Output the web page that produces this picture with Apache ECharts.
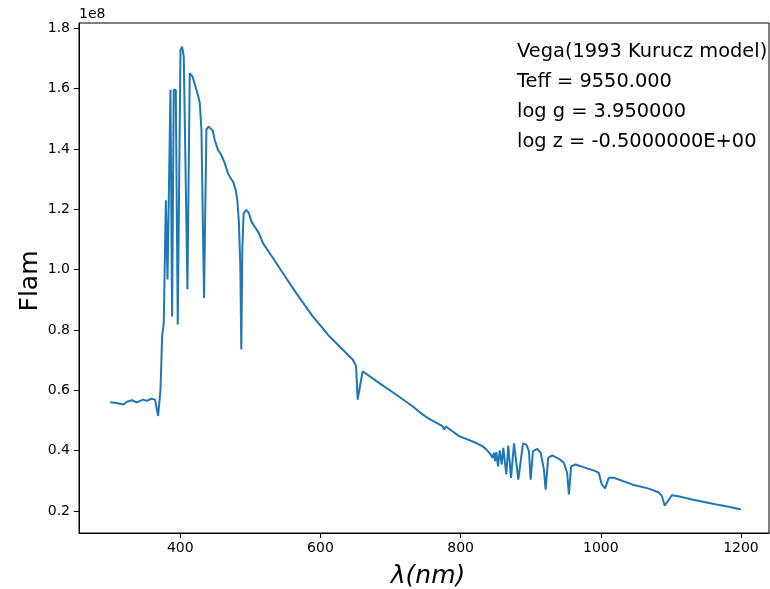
<!DOCTYPE html>
<html>
<head>
<meta charset="utf-8" />
<title>Vega spectrum</title>
<script src="https://cdn.jsdelivr.net/npm/echarts@6.0.0/dist/echarts.min.js"></script>
<style>
  html, body { margin: 0; padding: 0; background: #fff; }
  #chart { width: 770px; height: 589px; }
</style>
</head>
<body>
<div id="chart"></div>
<script type="text/javascript">
// wavelength (nm)
var wave = [
  300, 309, 319, 324, 331, 338, 347, 352, 359, 364, 368.4, 371.8, 374.1, 376.5,
  379.4, 381.8, 386, 388.3, 390.7, 393.6, 396.4, 400.3, 402.6, 405, 410.2, 413.5,
  417.4, 423.1, 425.6, 427.8, 430.2, 433.9, 437.3, 440.6, 444.4, 446.7, 449.1,
  453.8, 458.6, 463.3, 468, 471.5, 475.2, 479, 481.4, 483.7, 485.7, 487.1, 488.5,
  490.4, 494.2, 497.9, 501.4, 506, 512.2, 517.9, 527.4, 536.9, 546.3, 565.4, 589,
  612.8, 631.7, 646, 650.8, 653.1, 660.2, 684, 707.8, 731.4, 745.6, 755.2, 774.1,
  776.5, 778.9, 797.9, 821.6, 831, 836.3, 843, 845.3, 847.7, 849.1, 850.9, 853.4,
  855.8, 858.7, 860.9, 865.2, 868, 871.9, 876.2, 882.3, 889, 893.7, 897.5, 899.9,
  903.2, 909.3, 914.2, 918.9, 921.3, 925, 930.7, 940.2, 947.3, 952, 954.5, 957.7,
  964, 978.2, 992.5, 997.2, 1001.4, 1006.1, 1011.4, 1018.5, 1044.6, 1068.3,
  1082.6, 1087.3, 1091.1, 1101.5, 1111, 1130, 1163.3, 1182.2, 1200
];
// Flam in units of 1e8
var flam = [
  0.560, 0.558, 0.553, 0.562, 0.567, 0.560, 0.569, 0.565, 0.572, 0.569, 0.515, 0.602, 0.779, 0.824,
  1.23, 0.967, 1.596, 0.845, 1.596, 1.596, 0.818, 1.728, 1.739, 1.706, 0.935, 1.651,
  1.64, 1.596, 1.575, 1.553, 1.463, 0.906, 1.465, 1.474, 1.465, 1.458, 1.43,
  1.397, 1.38, 1.354, 1.32, 1.304, 1.292, 1.265, 1.23, 1.155, 1.01, 0.735, 1.066,
  1.187, 1.198, 1.187, 1.16, 1.143, 1.121, 1.088, 1.055, 1.022, 0.989, 0.922, 0.845,
  0.779, 0.735, 0.702, 0.68, 0.569, 0.663, 0.624, 0.586, 0.547, 0.52, 0.505, 0.481,
  0.47, 0.48, 0.448, 0.426, 0.415, 0.405, 0.387, 0.376, 0.393, 0.365, 0.395, 0.348,
  0.401, 0.354, 0.409, 0.321, 0.417, 0.31, 0.424, 0.304, 0.424, 0.42, 0.398, 0.304,
  0.398, 0.406, 0.393, 0.337, 0.271, 0.376, 0.384, 0.373, 0.36, 0.326, 0.255, 0.348,
  0.354, 0.343, 0.332, 0.326, 0.288, 0.275, 0.31, 0.31, 0.288, 0.274,
  0.262, 0.249, 0.218, 0.252, 0.249, 0.238, 0.222, 0.214, 0.205
];
var xTicks = [400, 600, 800, 1000, 1200];
var yTicks = [0.2, 0.4, 0.6, 0.8, 1.0, 1.2, 1.4, 1.6, 1.8];
var infoLines = [
  'Vega(1993 Kurucz model)',
  'Teff = 9550.000',
  'log g = 3.950000',
  'log z = -0.5000000E+00'
];

var pts = [];
for (var i = 0; i < wave.length; i++) {
  pts.push([wave[i], flam[i]]);
}

var font = 'DejaVu Sans';
var myChart = echarts.init(document.getElementById('chart'));

var texts = [];
for (var k = 0; k < infoLines.length; k++) {
  texts.push({
    type: 'text', left: 517, top: 42 + k * 30,
    style: { text: infoLines[k], font: '19.4px "DejaVu Sans"', fill: '#000' }
  });
}
// axis titles and offset text
texts.push({
  type: 'text', left: 79, top: 7,
  style: { text: '1e8', font: '14px "DejaVu Sans"', fill: '#000' }
});
texts.push({
  type: 'text', x: 30, y: 281, rotation: Math.PI / 2,
  style: { text: 'Flam', font: '25px "DejaVu Sans"', fill: '#000', align: 'center', verticalAlign: 'middle' }
});
texts.push({
  type: 'text', x: 428, y: 576,
  style: { text: 'λ(nm)', font: 'italic 25px "DejaVu Sans"', fill: '#000', align: 'center', verticalAlign: 'middle' }
});

var option = {
  animation: false,
  grid: {
    left: 79, right: 1, top: 23, bottom: 56,
    show: true, borderColor: '#000', borderWidth: 1
  },
  xAxis: {
    type: 'value',
    min: 255.5, max: 1240,
    axisLine: { show: true, lineStyle: { color: '#000', width: 1 } },
    axisTick: { show: true, inside: false, length: 5, customValues: xTicks, lineStyle: { color: '#000' } },
    axisLabel: {
      customValues: xTicks, margin: 8, color: '#000', fontFamily: font, fontSize: 14,
      formatter: function (v) { return String(v); }
    },
    splitLine: { show: false }
  },
  yAxis: {
    type: 'value',
    min: 0.127, max: 1.8175,
    axisLine: { show: true, lineStyle: { color: '#000', width: 1 } },
    axisTick: { show: true, inside: false, length: 5, customValues: yTicks, lineStyle: { color: '#000' } },
    axisLabel: {
      customValues: yTicks, margin: 9, color: '#000', fontFamily: font, fontSize: 14,
      formatter: function (v) { return v.toFixed(1); }
    },
    splitLine: { show: false }
  },
  graphic: texts,
  series: [{
    type: 'line',
    data: pts,
    showSymbol: false,
    lineStyle: { color: '#1f77b4', width: 2 },
    itemStyle: { color: '#1f77b4' }
  }]
};
myChart.setOption(option);
</script>
</body>
</html>
